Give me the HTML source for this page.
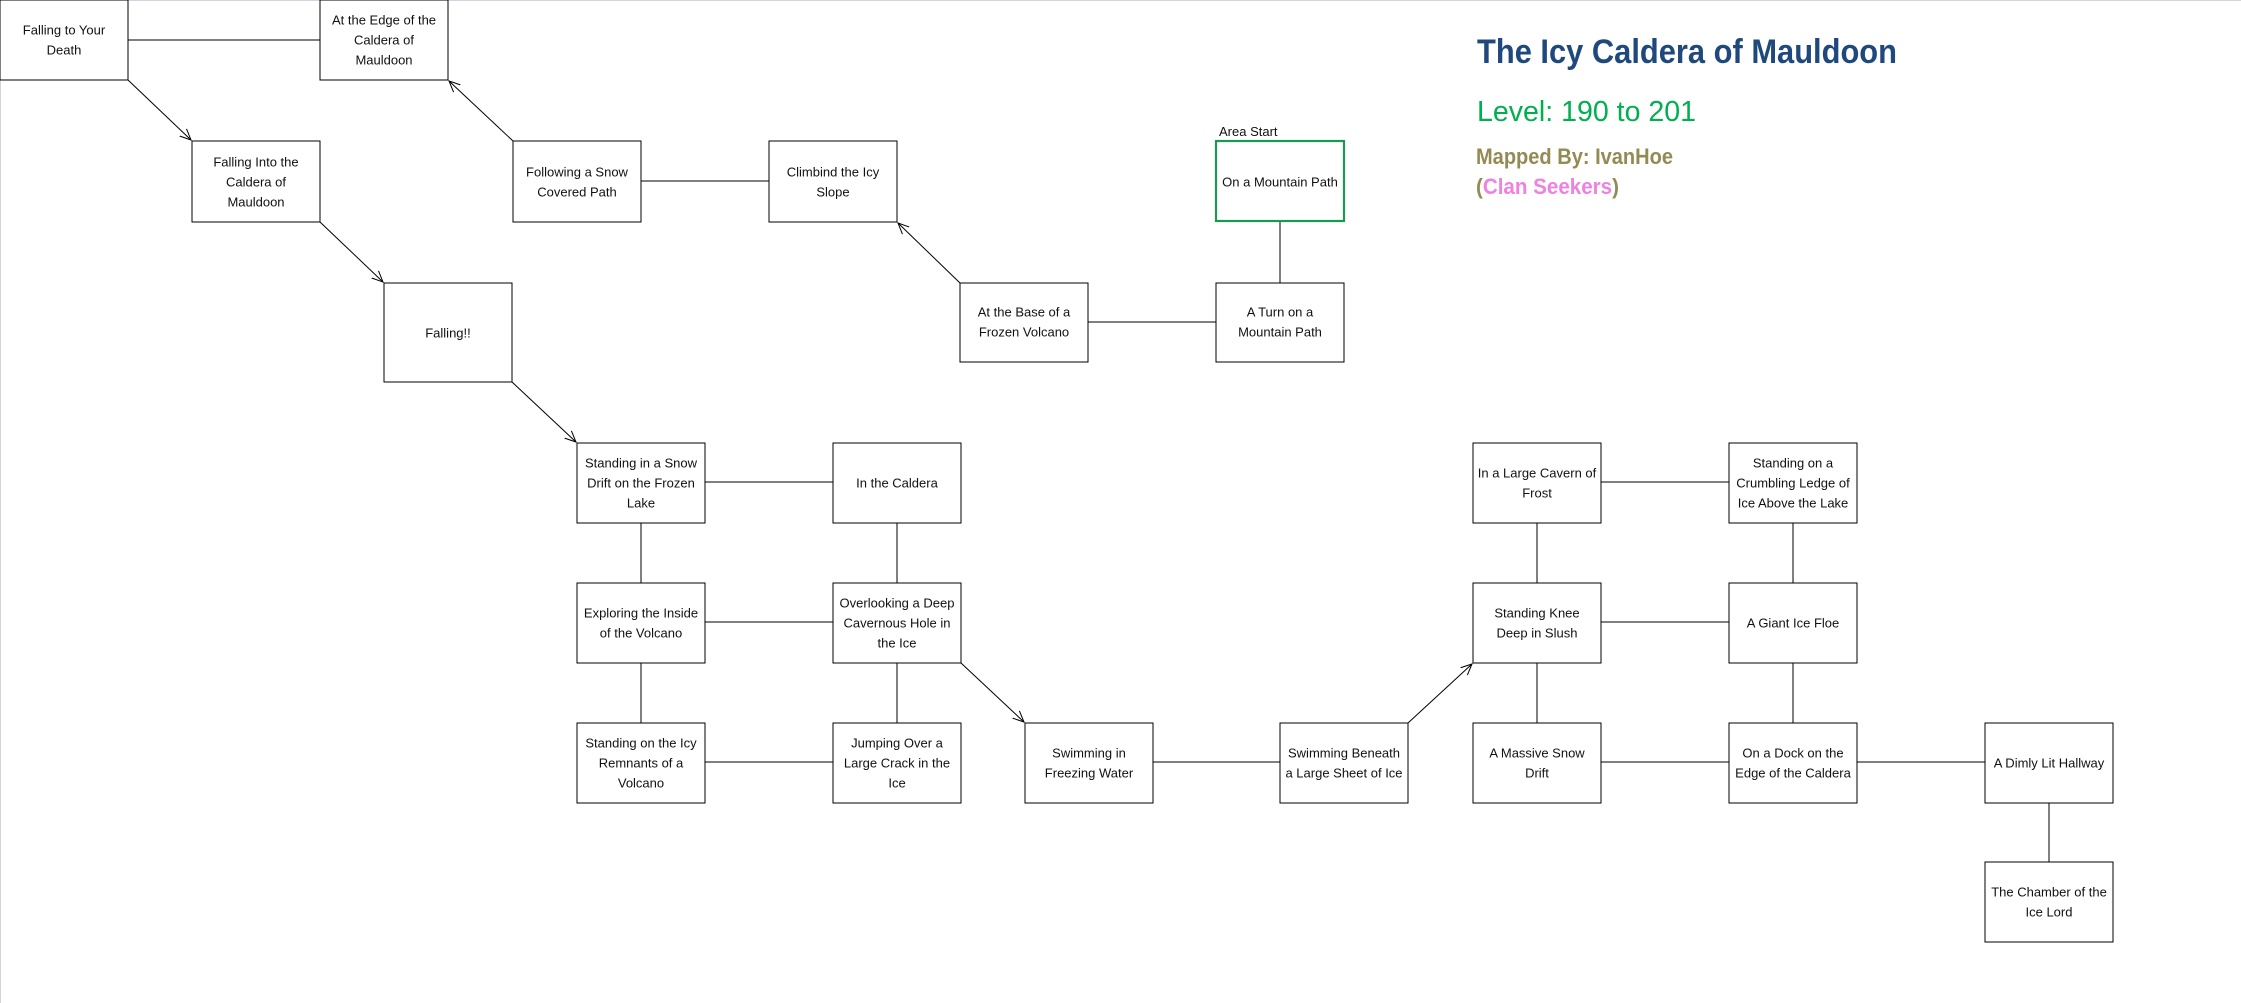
<!DOCTYPE html>
<html><head><meta charset="utf-8"><style>
html,body{margin:0;padding:0;background:#fff;}
svg{display:block;}
text{font-family:"Liberation Sans",sans-serif;}
.b{fill:#fff;stroke:#000;stroke-width:1;}
.t{font-size:13px;fill:#111;text-anchor:middle;dominant-baseline:central;}
line{stroke:#000;stroke-width:1;}
</style></head><body>
<svg width="2241" height="1003" viewBox="0 0 2241 1003" xmlns="http://www.w3.org/2000/svg">
<defs>
<marker id="a" viewBox="0 0 12 12" refX="11" refY="6" markerWidth="12" markerHeight="12" markerUnits="userSpaceOnUse" orient="auto">
<path d="M0,1 L11,6 L0,11" fill="none" stroke="#000" stroke-width="1"/>
</marker>
</defs>
<rect x="0" y="0" width="2241" height="1003" fill="#fff"/>
<line x1="0" y1="0.5" x2="2241" y2="0.5" style="stroke:#d0d4dc;stroke-width:1"/>
<line x1="0.5" y1="0" x2="0.5" y2="1003" style="stroke:#d0d4dc;stroke-width:1"/>

<line x1="128" y1="40" x2="320" y2="40"/>
<line x1="128" y1="80" x2="191" y2="140" marker-end="url(#a)"/>
<line x1="320" y1="222" x2="383" y2="282" marker-end="url(#a)"/>
<line x1="512" y1="382" x2="576" y2="442" marker-end="url(#a)"/>
<line x1="513" y1="141" x2="449" y2="81" marker-end="url(#a)"/>
<line x1="641" y1="181" x2="769" y2="181"/>
<line x1="960" y1="283" x2="898" y2="223" marker-end="url(#a)"/>
<line x1="1088" y1="322" x2="1216" y2="322"/>
<line x1="1280" y1="221" x2="1280" y2="283"/>
<line x1="705" y1="482" x2="833" y2="482"/>
<line x1="641" y1="523" x2="641" y2="583"/>
<line x1="897" y1="523" x2="897" y2="583"/>
<line x1="705" y1="622" x2="833" y2="622"/>
<line x1="641" y1="663" x2="641" y2="723"/>
<line x1="897" y1="663" x2="897" y2="723"/>
<line x1="705" y1="762" x2="833" y2="762"/>
<line x1="961" y1="663" x2="1024" y2="722" marker-end="url(#a)"/>
<line x1="1153" y1="762" x2="1280" y2="762"/>
<line x1="1408" y1="723" x2="1472" y2="664" marker-end="url(#a)"/>
<line x1="1601" y1="482" x2="1729" y2="482"/>
<line x1="1537" y1="523" x2="1537" y2="583"/>
<line x1="1793" y1="523" x2="1793" y2="583"/>
<line x1="1601" y1="622" x2="1729" y2="622"/>
<line x1="1537" y1="663" x2="1537" y2="723"/>
<line x1="1793" y1="663" x2="1793" y2="723"/>
<line x1="1601" y1="762" x2="1729" y2="762"/>
<line x1="1857" y1="762" x2="1985" y2="762"/>
<line x1="2049" y1="803" x2="2049" y2="862"/>

<rect class="b" x="0" y="0" width="128" height="80"/>
<text class="t" x="64" y="30">Falling to Your</text><text class="t" x="64" y="50">Death</text>

<rect class="b" x="320" y="0" width="128" height="80"/>
<text class="t" x="384" y="20">At the Edge of the</text><text class="t" x="384" y="40">Caldera of</text><text class="t" x="384" y="60">Mauldoon</text>

<rect class="b" x="192" y="141" width="128" height="81"/>
<text class="t" x="256" y="162">Falling Into the</text><text class="t" x="256" y="182">Caldera of</text><text class="t" x="256" y="202">Mauldoon</text>

<rect class="b" x="384" y="283" width="128" height="99"/>
<text class="t" x="448" y="333">Falling!!</text>

<rect class="b" x="513" y="141" width="128" height="81"/>
<text class="t" x="577" y="172">Following a Snow</text><text class="t" x="577" y="192">Covered Path</text>

<rect class="b" x="769" y="141" width="128" height="81"/>
<text class="t" x="833" y="172">Climbind the Icy</text><text class="t" x="833" y="192">Slope</text>

<text x="1219" y="136" style="font-size:13px;fill:#111">Area Start</text>
<rect x="1216" y="141" width="128" height="80" fill="#fff" stroke="#1a9a50" stroke-width="2.2"/>
<text class="t" x="1280" y="182">On a Mountain Path</text>

<rect class="b" x="960" y="283" width="128" height="79"/>
<text class="t" x="1024" y="312">At the Base of a</text><text class="t" x="1024" y="332">Frozen Volcano</text>

<rect class="b" x="1216" y="283" width="128" height="79"/>
<text class="t" x="1280" y="312">A Turn on a</text><text class="t" x="1280" y="332">Mountain Path</text>

<rect class="b" x="577" y="443" width="128" height="80"/>
<text class="t" x="641" y="463">Standing in a Snow</text><text class="t" x="641" y="483">Drift on the Frozen</text><text class="t" x="641" y="503">Lake</text>

<rect class="b" x="833" y="443" width="128" height="80"/>
<text class="t" x="897" y="483">In the Caldera</text>

<rect class="b" x="577" y="583" width="128" height="80"/>
<text class="t" x="641" y="613">Exploring the Inside</text><text class="t" x="641" y="633">of the Volcano</text>

<rect class="b" x="833" y="583" width="128" height="80"/>
<text class="t" x="897" y="603">Overlooking a Deep</text><text class="t" x="897" y="623">Cavernous Hole in</text><text class="t" x="897" y="643">the Ice</text>

<rect class="b" x="577" y="723" width="128" height="80"/>
<text class="t" x="641" y="743">Standing on the Icy</text><text class="t" x="641" y="763">Remnants of a</text><text class="t" x="641" y="783">Volcano</text>

<rect class="b" x="833" y="723" width="128" height="80"/>
<text class="t" x="897" y="743">Jumping Over a</text><text class="t" x="897" y="763">Large Crack in the</text><text class="t" x="897" y="783">Ice</text>

<rect class="b" x="1025" y="723" width="128" height="80"/>
<text class="t" x="1089" y="753">Swimming in</text><text class="t" x="1089" y="773">Freezing Water</text>

<rect class="b" x="1280" y="723" width="128" height="80"/>
<text class="t" x="1344" y="753">Swimming Beneath</text><text class="t" x="1344" y="773">a Large Sheet of Ice</text>

<rect class="b" x="1473" y="443" width="128" height="80"/>
<text class="t" x="1537" y="473">In a Large Cavern of</text><text class="t" x="1537" y="493">Frost</text>

<rect class="b" x="1729" y="443" width="128" height="80"/>
<text class="t" x="1793" y="463">Standing on a</text><text class="t" x="1793" y="483">Crumbling Ledge of</text><text class="t" x="1793" y="503">Ice Above the Lake</text>

<rect class="b" x="1473" y="583" width="128" height="80"/>
<text class="t" x="1537" y="613">Standing Knee</text><text class="t" x="1537" y="633">Deep in Slush</text>

<rect class="b" x="1729" y="583" width="128" height="80"/>
<text class="t" x="1793" y="623">A Giant Ice Floe</text>

<rect class="b" x="1473" y="723" width="128" height="80"/>
<text class="t" x="1537" y="753">A Massive Snow</text><text class="t" x="1537" y="773">Drift</text>

<rect class="b" x="1729" y="723" width="128" height="80"/>
<text class="t" x="1793" y="753">On a Dock on the</text><text class="t" x="1793" y="773">Edge of the Caldera</text>

<rect class="b" x="1985" y="723" width="128" height="80"/>
<text class="t" x="2049" y="763">A Dimly Lit Hallway</text>

<rect class="b" x="1985" y="862" width="128" height="80"/>
<text class="t" x="2049" y="892">The Chamber of the</text><text class="t" x="2049" y="912">Ice Lord</text>

<text x="1477" y="63" textLength="420" lengthAdjust="spacingAndGlyphs" style="font-size:34px;font-weight:bold;fill:#1f497d">The Icy Caldera of Mauldoon</text>
<text x="1477" y="121" textLength="219" lengthAdjust="spacingAndGlyphs" style="font-size:29px;fill:#00b050">Level: 190 to 201</text>
<text x="1476" y="164" textLength="197" lengthAdjust="spacingAndGlyphs" style="font-size:22px;font-weight:bold;fill:#948a54">Mapped By: IvanHoe</text>
<text x="1476" y="194" textLength="143" lengthAdjust="spacingAndGlyphs" style="font-size:22px;font-weight:bold;fill:#948a54">(<tspan fill="#ee82e0">Clan Seekers</tspan>)</text>
</svg>
</body></html>
